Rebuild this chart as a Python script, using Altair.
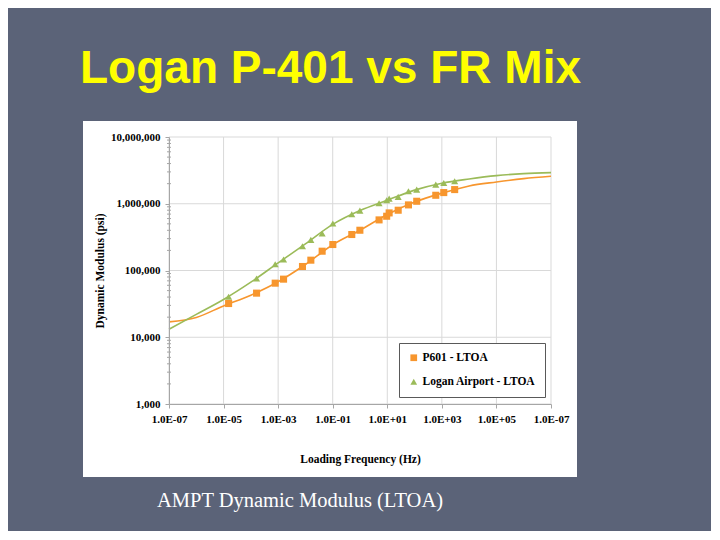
import json
import altair as alt
import pandas as pd

# ---------------- data ----------------
series_names = ["P601 - LTOA", "Logan Airport - LTOA"]
series_colors = ["#F7962E", "#9BBB59"]
series_shapes = ["square", "triangle-up"]

# measured points (loading frequency in Hz, dynamic modulus in psi)
test_freq = [1.53e-5, 1.62e-4, 7.8e-4, 1.58e-3, 7.8e-3, 1.58e-2, 4.1e-2, 0.101,
             0.50, 0.99, 5.0, 9.5, 11.7, 25.1, 59.7, 120, 598, 1175, 2950]
p601_modulus = [32000, 45800, 64600, 74200, 114800, 142800, 194600, 245000,
                346000, 401000, 573000, 650000, 729000, 800000, 961000,
                1090000, 1340000, 1470000, 1630000]
logan_modulus = [40400, 75900, 124000, 146000, 231000, 287000, 358000, 505000,
                 697000, 790000, 1017000, 1128000, 1195000, 1265000, 1538000,
                 1630000, 1936000, 2050000, 2170000]

# fitted master curves, read at every decade
fit_freq = [1e-7, 1e-6, 1e-5, 1e-4, 1e-3, 1e-2, 1e-1, 1e0, 1e1, 1e2, 1e3,
            1e4, 1e5, 1e6, 1e7]
p601_fit = [17000, 19800, 29500, 42700, 67800, 123000, 243000, 401000,
            690000, 1060000, 1440000, 1850000, 2120000, 2380000, 2580000]
logan_fit = [13200, 22000, 36800, 66900, 130000, 250000, 490000, 790000,
             1130000, 1600000, 2030000, 2350000, 2640000, 2830000, 2930000]

# axes
x_tick_values = [1e-7, 1e-5, 1e-3, 1e-1, 1e1, 1e3, 1e5, 1e7]
x_tick_labels = ["1.0E-07", "1.0E-05", "1.0E-03", "1.0E-01", "1.0E+01",
                 "1.0E+03", "1.0E+05", "1.0E-07"]
y_tick_values = [1000, 10000, 100000, 1000000, 10000000]
y_minor_values = [m * d for d in [1000, 10000, 100000, 1000000] for m in range(2, 10)]

slide_title = "Logan P-401 vs FR Mix"
caption_text = "AMPT Dynamic Modulus  (LTOA)"
x_title = "Loading Frequency (Hz)"
y_title = "Dynamic Modulus (psi)"

# ---------------- tables ----------------
points = pd.DataFrame({
    "freq": test_freq + test_freq,
    "modulus": p601_modulus + logan_modulus,
    "series": [series_names[0]] * len(test_freq) + [series_names[1]] * len(test_freq),
})
curve_p601 = pd.DataFrame({"freq": fit_freq, "modulus": p601_fit})
curve_logan = pd.DataFrame({"freq": fit_freq, "modulus": logan_fit})
xgrid = pd.DataFrame({"freq": x_tick_values})
ygrid = pd.DataFrame({"modulus": y_tick_values})
yminor = pd.DataFrame({"modulus": y_minor_values})

W, H = 382, 267
SERIF = "Liberation Serif"

xscale = alt.Scale(type="log", domain=[1e-7, 1e7], nice=False)
yscale = alt.Scale(type="log", domain=[1000, 1e7], nice=False)

label_expr = json.dumps(x_tick_labels) + "[round((log(datum.value)/LN10 + 7)/2)]"

xaxis = alt.Axis(values=x_tick_values, labelExpr=label_expr, grid=False,
                 title=x_title, tickSize=4, tickColor="#a6a6a6",
                 domainColor="#a6a6a6", labelFont=SERIF, labelFontSize=11,
                 labelFontWeight="bold", labelColor="black", labelPadding=5,
                 labelFlush=False, labelOverlap=False, titleFont=SERIF,
                 titleFontSize=11.5, titleFontWeight="bold", titleColor="black",
                 titlePadding=29, zindex=1)
yaxis = alt.Axis(values=y_tick_values, format=",.0f", grid=False,
                 title=y_title, tickSize=4, tickColor="#a6a6a6",
                 domainColor="#a6a6a6", labelFont=SERIF, labelFontSize=11,
                 labelFontWeight="bold", labelColor="black", labelPadding=5,
                 labelFlush=False, labelOverlap=False, titleFont=SERIF,
                 titleFontSize=11.5, titleFontWeight="bold", titleColor="black",
                 titlePadding=5, zindex=1)

X = lambda: alt.X("freq:Q", scale=xscale, axis=xaxis)
Y = lambda: alt.Y("modulus:Q", scale=yscale, axis=yaxis)

one = pd.DataFrame({"t": [0]})

white_box = alt.Chart(one).mark_rect(color="white").encode(
    x=alt.value(-86), x2=alt.value(408), y=alt.value(-16), y2=alt.value(340))

vgrid = alt.Chart(xgrid).mark_rule(color="#d9d9d9", strokeWidth=1).encode(x=X())
hgrid = alt.Chart(ygrid).mark_rule(color="#d9d9d9", strokeWidth=1).encode(y=Y())
minor = alt.Chart(yminor).mark_rule(color="#a6a6a6", strokeWidth=1).encode(
    y=Y(), x=alt.value(-2), x2=alt.value(2))

line_p601 = alt.Chart(curve_p601).mark_line(
    strokeWidth=1.6, interpolate="monotone", color=series_colors[0]).encode(x=X(), y=Y())
line_logan = alt.Chart(curve_logan).mark_line(
    strokeWidth=1.6, interpolate="monotone", color=series_colors[1]).encode(x=X(), y=Y())

marks = alt.Chart(points).mark_point(filled=True, opacity=1, size=50).encode(
    x=X(), y=Y(),
    color=alt.Color("series:N", title=None,
                    scale=alt.Scale(domain=series_names, range=series_colors),
                    legend=alt.Legend(orient="none", legendX=230, legendY=206,
                                      fillColor="white", strokeColor="#595959",
                                      padding=9, rowPadding=11, labelFont=SERIF,
                                      labelFontSize=11.5, labelFontWeight="bold",
                                      labelColor="black", symbolSize=45,
                                      labelOffset=3, zindex=2)),
    shape=alt.Shape("series:N", title=None,
                    scale=alt.Scale(domain=series_names, range=series_shapes)),
)

title_mark = alt.Chart(pd.DataFrame({"t": [slide_title]})).mark_text(
    align="left", baseline="alphabetic", font="Liberation Sans", fontSize=46,
    fontWeight="bold", color="#FFFF00").encode(
    x=alt.value(-89), y=alt.value(-54), text="t:N")

caption_mark = alt.Chart(pd.DataFrame({"t": [caption_text]})).mark_text(
    align="left", baseline="alphabetic", font=SERIF, fontSize=20.5,
    color="white").encode(
    x=alt.value(-12), y=alt.value(370), text="t:N")

chart = alt.layer(white_box, vgrid, hgrid, minor, line_p601, line_logan, marks,
                  title_mark, caption_mark).properties(
    width=W, height=H, background="#5B6378",
    autosize=alt.AutoSizeParams(type="none"),
    padding={"left": 161, "top": 129, "right": 160, "bottom": 127},
).configure_view(stroke="transparent")

chart.save("out.html", embed_options={"renderer": "svg", "actions": False})
